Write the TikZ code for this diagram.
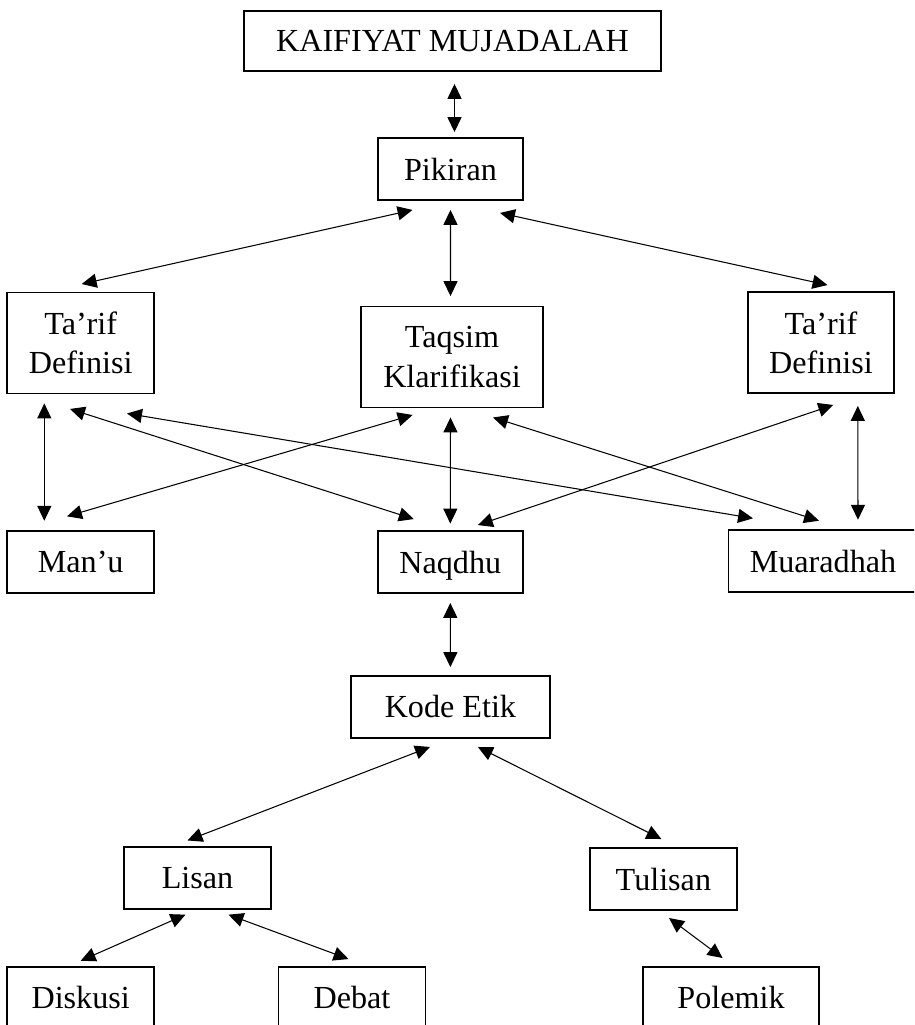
\documentclass[tikz,border=0pt]{standalone}
\usepackage{fontspec}
\setmainfont{Liberation Serif}
\usepackage{tikz}
\usetikzlibrary{arrows.meta,calc}

\begin{document}
\begin{tikzpicture}[x=0.02cm, y=-0.02cm,
  font=\fontsize{18.3}{22.3}\selectfont,
  box/.style={draw=black, line width=1.1pt, minimum height=1.24cm,
              inner sep=0pt, align=center},
  arr/.style={{Triangle[length=8.5pt,width=8pt]}-{Triangle[length=8.5pt,width=8pt]},
              line width=0.6pt}]
\clip (0,0) rectangle (914,1025);
% --- top ---
\node[box, minimum width=8.34cm, minimum height=1.2cm] (kaifiyat) at (452.5,41)
  {KAIFIYAT MUJADALAH};
\node[box, minimum width=2.9cm] (pikiran) at (450.5,169) {Pikiran};
% --- second row ---
\node[box, minimum width=2.94cm, minimum height=2.02cm] (tarifL) at (80.7,343)
  {Ta’rif\\Definisi};
\node[box, minimum width=3.64cm, minimum height=2.02cm] (taqsim) at (452,357)
  {Taqsim\\Klarifikasi};
\node[box, minimum width=2.92cm, minimum height=2.02cm] (tarifR) at (821,342.5)
  {Ta’rif\\Definisi};
% --- third row ---
\node[box, minimum width=2.94cm] (manu) at (80.7,562) {Man’u};
\node[box, minimum width=2.9cm, text depth=0pt] (naqdhu) at (450.3,562) {Naqdhu};
\node[box, minimum width=3.78cm] (muaradhah) at (823,561) {Muaradhah};
% --- lower part ---
\node[box, minimum width=3.98cm] (kodeetik) at (450.4,706.7) {Kode Etik};
\node[box, minimum width=2.94cm] (lisan) at (197.5,878.4) {Lisan};
\node[box, minimum width=2.94cm] (tulisan) at (663.4,879) {Tulisan};
\node[box, minimum width=2.94cm] (diskusi) at (80.7,997.7) {Diskusi};
\node[box, minimum width=2.94cm] (debat) at (352,997.7) {Debat};
\node[box, minimum width=3.51cm] (polemik) at (731,997.7) {Polemik};
% --- connectors ---
\draw[arr] ($(kaifiyat.south)+(2,12)$) -- ($(pikiran.north)+(4,-5)$);
\draw[arr] ($(pikiran.south)+(-38,9)$) -- ($(tarifL.north)+(1,-7.5)$);
\draw[arr] ($(pikiran.south)+(0,9)$) -- ($(taqsim.north)+(-1.5,-9.5)$);
\draw[arr] ($(pikiran.south)+(49.5,12)$) -- ($(tarifR.north)+(6.5,-6)$);
\draw[arr] ($(tarifL.south)+(-36.4,9)$) -- ($(manu.north)+(-36.4,-9.3)$);
\draw[arr] ($(tarifL.south)+(-10.7,14.5)$) -- ($(naqdhu.north)+(-36.5,-11)$);
\draw[arr] ($(tarifL.south)+(46.3,19)$) -- ($(muaradhah.north)+(-70,-10.7)$);
\draw[arr] ($(taqsim.south)+(-39.4,6.5)$) -- ($(manu.north)+(-13.7,-13.7)$);
\draw[arr] ($(taqsim.south)+(-1.5,9)$) -- ($(naqdhu.north)+(0,-6.5)$);
\draw[arr] ($(taqsim.south)+(41,9)$) -- ($(muaradhah.north)+(-4,-8.3)$);
\draw[arr] ($(tarifR.south)+(12.3,11)$) -- ($(naqdhu.north)+(27.6,-5)$);
\draw[arr] ($(tarifR.south)+(36.8,12)$) -- ($(muaradhah.north)+(35,-9.3)$);
\draw[arr] ($(naqdhu.south)+(0,9)$) -- ($(kodeetik.north)+(0,-7.7)$);
\draw[arr] ($(kodeetik.south)+(-20.4,8.3)$) -- ($(lisan.north)+(-10,-6)$);
\draw[arr] ($(kodeetik.south)+(27.5,8.3)$) -- ($(tulisan.north)+(-2,-8)$);
\draw[arr] ($(lisan.south)+(-12,4.3)$) -- ($(diskusi.north)+(0,-5)$);
\draw[arr] ($(lisan.south)+(31,4.3)$) -- ($(debat.north)+(-3.5,-6.7)$);
\draw[arr] ($(tulisan.south)+(5.6,7)$) -- ($(polemik.north)+(-8.4,-7.7)$);
\end{tikzpicture}
\end{document}
